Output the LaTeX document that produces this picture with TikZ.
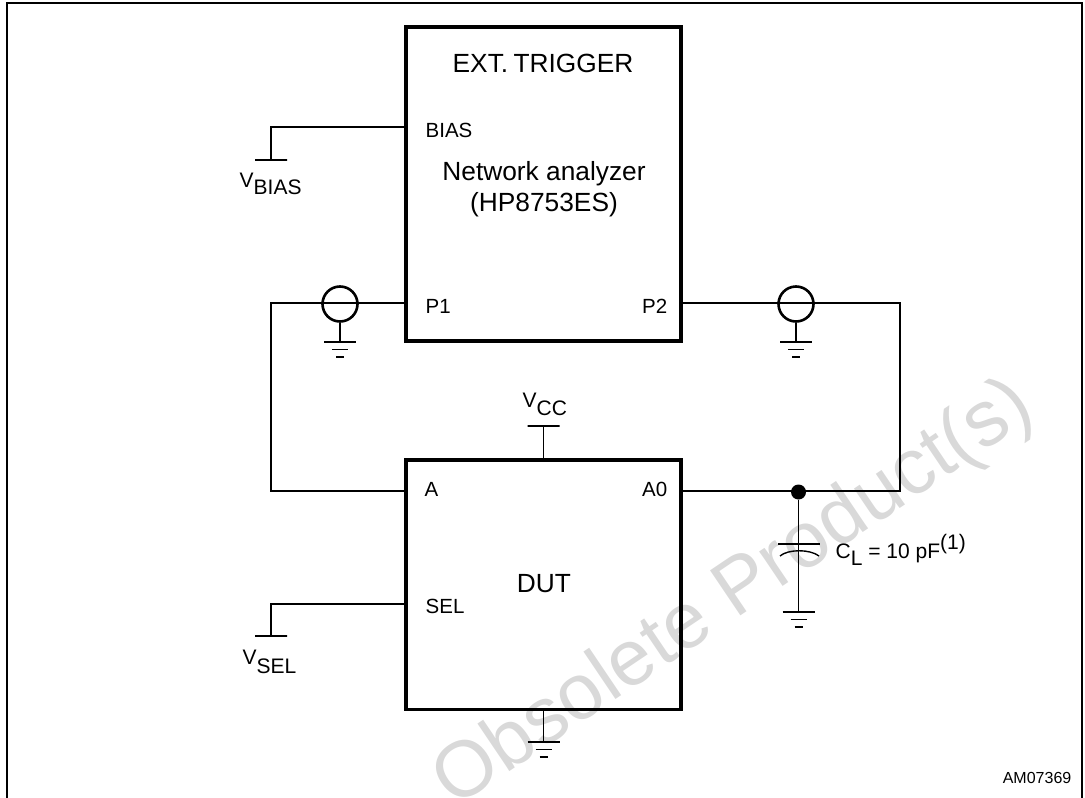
\documentclass[tikz,border=0pt]{standalone}
\usepackage{fontspec}
\setmainfont{Liberation Sans}
\begin{document}
\begin{tikzpicture}[x=1pt, y=-1pt, line width=1.4pt,
	main node/.style={rectangle,draw,line width=3.8pt,minimum width=275.2pt,inner sep=0pt},
	pin label/.style={font=\fontsize{20.5}{24}\selectfont,inner sep=0pt},
	big label/.style={font=\fontsize{26.3}{30.5}\selectfont,inner sep=0pt,align=center},
	supply bar/.style={minimum width=32pt,inner sep=0pt,minimum height=0pt,draw,line width=1.4pt},
	supply label/.style={font=\fontsize{21}{24}\selectfont,inner sep=0pt,anchor=base west},
	coax/.style={circle,draw,line width=2.6pt,minimum size=35pt,inner sep=0pt},
	dot/.style={circle,fill=black,minimum size=15pt,inner sep=0pt},
	gnd/.pic={
		\draw (-16,0) -- (16,0);
		\draw (-8,7.5) -- (8,7.5);
		\draw (-4,15) -- (4,15);
	}]
	
	\useasboundingbox (0,0) rectangle (1085,798);
	
	\node[rotate=34,anchor=base,font=\fontsize{79}{79}\selectfont,text=black!15,inner sep=0pt] (mark) at (746,612) {Obsolete Product(s)};
	
	\draw[line width=2pt] (7,798) -- (7,3) -- (1082,3) -- (1082,798);
	
	\node[main node,minimum height=314.2pt] (analyzer) at (543.7,184) {};
	\node[main node,minimum height=249.2pt] (dut) at (543.7,584.8) {};
	
	\node[big label] (trigger) at (543,63) {EXT.\hspace{-2pt} TRIGGER};
	\node[big label] (name) at (544,189) {Network analyzer\\(HP8753ES)};
	\node[big label] (dutlabel) at (544,584) {DUT};
	
	\node[pin label,anchor=west] (bias) at (425,130) {BIAS};
	\node[pin label,anchor=west] (p1) at (425,306) {P1};
	\node[pin label,anchor=east] (p2) at (668,306) {P2};
	\node[pin label,anchor=west] (a) at (424,489) {A};
	\node[pin label,anchor=east] (a0) at (668,489) {A0};
	\node[pin label,anchor=west] (sel) at (425,606.5) {SEL};
	
	\node[coax] (coax1) at (340,304) {};
	\node[coax] (coax2) at (796,304) {};
	\node[dot] (junction) at (798.5,492) {};
	
	\node[supply bar] (vbias) at (271,160) {};
	\node[supply bar] (vsel) at (271,636) {};
	\node[supply bar] (vcc) at (543.7,426) {};
	
	\node[supply label] (vbiaslabel) at (239,187) {V\raisebox{-7.5pt}{BIAS}};
	\node[supply label] (vsellabel) at (242,664) {V\raisebox{-9pt}{SEL}};
	\node[supply label] (vcclabel) at (522,407) {V\raisebox{-8pt}{CC}};
	\node[supply label] (cload) at (835,558) {C\raisebox{-7pt}{L} = 10 pF\raisebox{9pt}{(1)}};
	\node[pin label,anchor=east,font=\fontsize{16}{18}\selectfont] (code) at (1072,778) {AM07369};
	
	\coordinate (g1) at (340,342);
	\coordinate (g2) at (796,342);
	\coordinate (g3) at (798.5,612);
	\coordinate (g4) at (543.7,742);
	\coordinate (bias pin) at (analyzer.west |- 0,127);
	\coordinate (sel pin) at (dut.west |- 0,604);
	\coordinate (a pin) at (dut.west |- 0,491);
	\coordinate (p1 pin) at (analyzer.west |- 0,303);
	\coordinate (p2 pin) at (analyzer.east |- 0,303);
	\coordinate (a0 pin) at (dut.east |- 0,491);
	\coordinate (left bend) at (271,303);
	\coordinate (right bend) at (900,303);
	
	\draw (bias pin) -| (vbias.center);
	\draw (sel pin) -| (vsel.center);
	\draw (vcc.center) -- (dut.north);
	\draw (p1 pin) -- (left bend) |- (a pin);
	\draw (p2 pin) -- (right bend) |- (a0 pin);
	\draw (coax1) -- (g1);
	\draw (coax2) -- (g2);
	\draw (junction) -- (g3);
	\draw (dut.south) -- (g4);
	
	\draw (778,544) -- (820,544);
	\draw (780,556) .. controls (788,549) and (810,549) .. (819,556);
	
	\pic at (g1) {gnd};
	\pic at (g2) {gnd};
	\pic at (g3) {gnd};
	\pic at (g4) {gnd};
\end{tikzpicture}
\end{document}
